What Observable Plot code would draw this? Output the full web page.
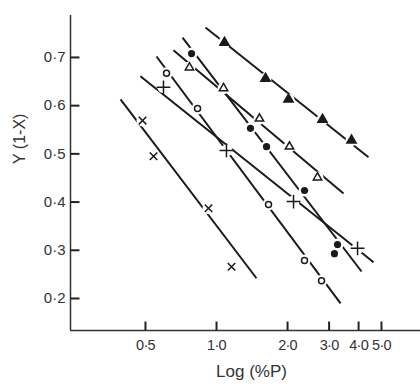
<!DOCTYPE html>
<html><head><meta charset="utf-8">
<script src="https://cdn.jsdelivr.net/npm/d3@7"></script>
<script src="https://cdn.jsdelivr.net/npm/@observablehq/plot@0.6"></script>
<style>
body{margin:0;background:#fff;}
#chart svg{font-family:"Liberation Sans",Arial,sans-serif;}
#chart g[aria-label="x-axis tick label"]{font-size:14.5px;letter-spacing:-0.7px;}
</style>
</head><body><div id="chart"></div>
<script>
// Tick values and labels
const xTicks = [0.5, 1, 2, 3, 4, 5];
const xTickLabels = ["0·5", "1·0", "2·0", "3·0", "4·0", "5·0"];
const yTicks = [0.2, 0.3, 0.4, 0.5, 0.6, 0.7];
const yTickLabels = ["0·2", "0·3", "0·4", "0·5", "0·6", "0·7"];
const xDomain = [0.2406, 7.318];
const yDomain = [0.1336, 0.787];
const xLabel = "Log (%P)";
const yLabel = "Y (1-X)";

// Series data (x = %P, y = Y(1-X))
const timesX = [0.486, 0.541, 0.925, 1.158];
const timesY = [0.569, 0.495, 0.387, 0.266];
const plusX = [0.596, 1.102, 2.12, 3.96];
const plusY = [0.638, 0.507, 0.401, 0.304];
const openCircleX = [0.614, 0.831, 1.661, 2.36, 2.786];
const openCircleY = [0.667, 0.594, 0.395, 0.279, 0.237];
const filledCircleX = [0.784, 1.393, 1.629, 2.36, 3.257, 3.16];
const filledCircleY = [0.708, 0.553, 0.515, 0.424, 0.312, 0.293];
const openTriangleX = [0.768, 1.071, 1.521, 2.038, 2.679];
const openTriangleY = [0.679, 0.636, 0.573, 0.515, 0.451];
const filledTriangleX = [1.081, 1.613, 2.019, 2.813, 3.733];
const filledTriangleY = [0.731, 0.656, 0.613, 0.571, 0.528];

// Fitted lines (start / end) per series
const seriesNames = ["times", "plus", "openCircle", "filledCircle", "openTriangle", "filledTriangle"];
const lineStartX = [0.392, 0.476, 0.557, 0.718, 0.657, 0.898];
const lineStartY = [0.613, 0.661, 0.702, 0.741, 0.715, 0.762];
const lineEndX = [1.477, 4.63, 3.354, 4.117, 3.452, 4.406];
const lineEndY = [0.242, 0.275, 0.190, 0.256, 0.418, 0.493];

const pts = (xs, ys) => xs.map((x, i) => ({x, y: ys[i]}));
const times = pts(timesX, timesY);
const plus = pts(plusX, plusY);
const openCircle = pts(openCircleX, openCircleY);
const filledCircle = pts(filledCircleX, filledCircleY);
const openTriangle = pts(openTriangleX, openTriangleY);
const filledTriangle = pts(filledTriangleX, filledTriangleY);
const allPts = [...times, ...plus, ...openCircle, ...filledCircle, ...openTriangle, ...filledTriangle];
const lines = seriesNames.map((s, i) => ({s, x1: lineStartX[i], y1: lineStartY[i], x2: lineEndX[i], y2: lineEndY[i]}));

const W = 420, H = 386, mL = 70, mT = 15, mB = 56, mR = 0;
const tickLen = 9;
// inward tick segments, derived from the tick values and the scale domains
const yTickEndX = xDomain[0] * Math.pow(xDomain[1] / xDomain[0], tickLen / (W - mL - mR));
const xTickEndY = yDomain[0] + (yDomain[1] - yDomain[0]) * tickLen / (H - mT - mB);
const yTickSegs = yTicks.map(v => ({x1: xDomain[0], x2: yTickEndX, y1: v, y2: v}));
const xTickSegs = xTicks.map(v => ({x1: v, x2: v, y1: yDomain[0], y2: xTickEndY}));

const ink = "#1a1a1a";
const chart = Plot.plot({
  width: W, height: H,
  marginLeft: mL, marginTop: mT, marginBottom: mB, marginRight: mR,
  style: {background: "#fff", color: "#333"},
  x: {type: "log", domain: xDomain},
  y: {domain: yDomain},
  marks: [
    Plot.ruleX([xDomain[0]], {y1: yDomain[0], y2: yDomain[1], stroke: "#333", strokeWidth: 1.5}),
    Plot.ruleY([yDomain[0]], {x1: xDomain[0], x2: xDomain[1], stroke: "#333", strokeWidth: 1.5}),
    // inward ticks
    Plot.link(yTickSegs, {x1: "x1", y1: "y1", x2: "x2", y2: "y2", stroke: "#222", strokeWidth: 2}),
    Plot.link(xTickSegs, {x1: "x1", y1: "y1", x2: "x2", y2: "y2", stroke: "#222", strokeWidth: 2}),
    // tick labels
    Plot.axisY({ticks: yTicks, tickSize: 0, tickPadding: 5,
      tickFormat: d => yTickLabels[yTicks.indexOf(d)], fontSize: 15, label: null}),
    Plot.axisX({ticks: xTicks, tickSize: 0, tickPadding: 9,
      tickFormat: d => xTickLabels[xTicks.indexOf(d)], fontSize: 14.5, label: null}),
    Plot.text([yLabel], {text: d => d, frameAnchor: "left", rotate: -90, dx: -51, dy: -9,
      fontSize: 16, fill: "#333", letterSpacing: "1px"}),
    Plot.text([xLabel], {text: d => d, frameAnchor: "bottom", dx: 6, dy: 46,
      fontSize: 17, fill: "#333"}),
    Plot.link(lines, {x1: "x1", y1: "y1", x2: "x2", y2: "y2", stroke: ink, strokeWidth: 2}),
    Plot.dot(allPts, {x: "x", y: "y", r: 6, fill: "#fff", stroke: "none"}),
    Plot.dot(times, {x: "x", y: "y", symbol: "times", r: 3.5, stroke: ink, strokeWidth: 1.5}),
    Plot.dot(plus, {x: "x", y: "y", symbol: "plus", r: 4.5, stroke: ink, strokeWidth: 1.5}),
    Plot.dot(openCircle, {x: "x", y: "y", symbol: "circle", r: 3, fill: "#fff", stroke: ink, strokeWidth: 1.5}),
    Plot.dot(filledCircle, {x: "x", y: "y", symbol: "circle", r: 3.6, fill: ink, stroke: "none"}),
    Plot.dot(openTriangle, {x: "x", y: "y", symbol: "triangle2", r: 4, fill: "#fff", stroke: ink, strokeWidth: 1.5}),
    Plot.dot(filledTriangle, {x: "x", y: "y", symbol: "triangle", r: 4.4, fill: ink, stroke: "none"})
  ]
});
document.getElementById("chart").appendChild(chart);
</script>
</body></html>
